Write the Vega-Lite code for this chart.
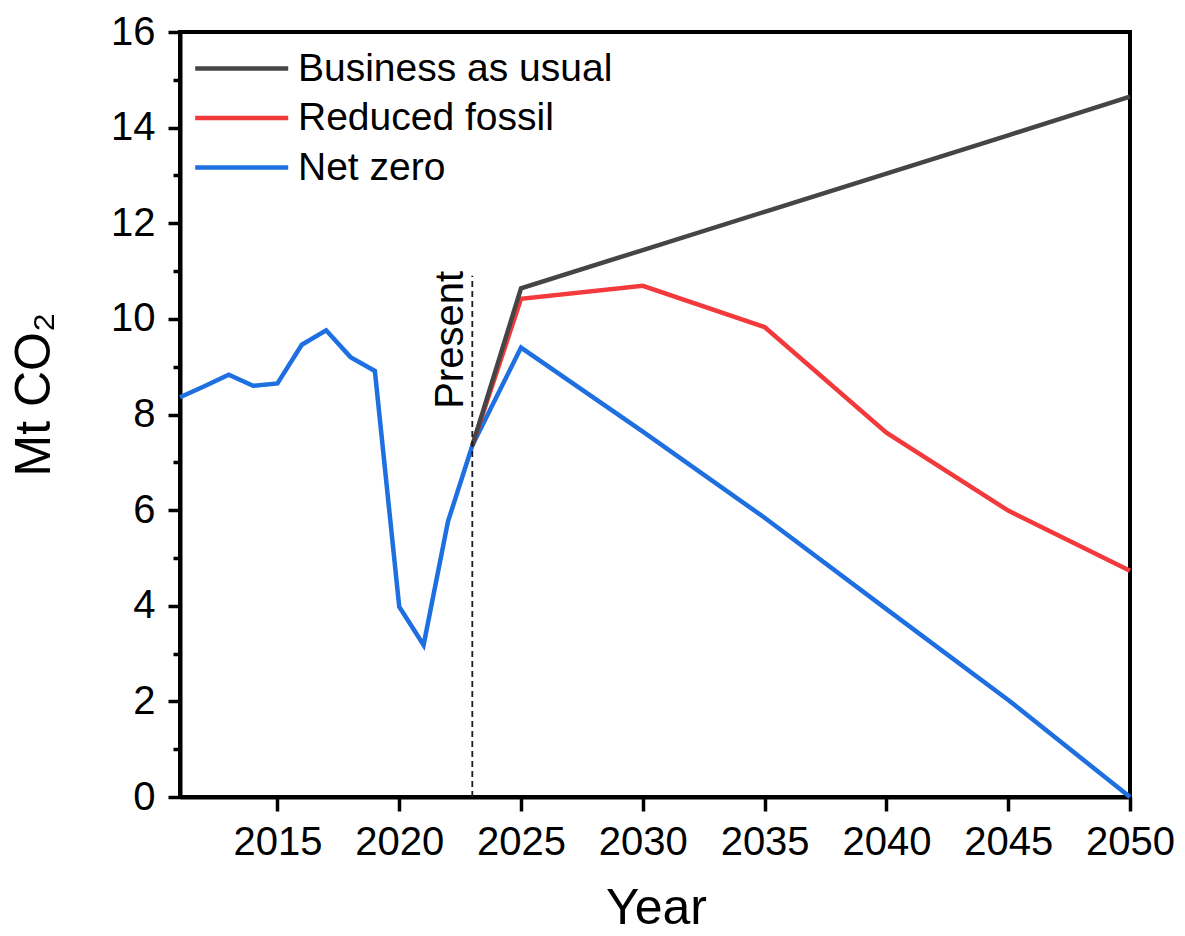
{
  "$schema": "https://vega.github.io/schema/vega-lite/v6.json",
  "width": 950,
  "height": 765,
  "autosize": "none",
  "padding": {"left": 180, "top": 32, "right": 55, "bottom": 139},
  "background": "white",
  "config": {
    "font": "Liberation Sans",
    "view": {"stroke": "black", "strokeWidth": 4},
    "axis": {
      "grid": false,
      "domainColor": "black",
      "domainWidth": 4,
      "tickColor": "black",
      "tickWidth": 3.5,
      "labelColor": "black",
      "labelFont": "Liberation Sans",
      "labelFontSize": 40,
      "titleFont": "Liberation Sans",
      "titleFontSize": 50,
      "titleFontWeight": "normal",
      "titleColor": "black"
    }
  },
  "datasets": {
    "emissions": [
      {"year": 2011, "value": 8.36, "scenario": "Net zero"},
      {"year": 2012, "value": 8.59, "scenario": "Net zero"},
      {"year": 2013, "value": 8.83, "scenario": "Net zero"},
      {"year": 2014, "value": 8.6, "scenario": "Net zero"},
      {"year": 2015, "value": 8.65, "scenario": "Net zero"},
      {"year": 2016, "value": 9.46, "scenario": "Net zero"},
      {"year": 2017, "value": 9.76, "scenario": "Net zero"},
      {"year": 2018, "value": 9.2, "scenario": "Net zero"},
      {"year": 2019, "value": 8.91, "scenario": "Net zero"},
      {"year": 2020, "value": 3.98, "scenario": "Net zero"},
      {"year": 2021, "value": 3.18, "scenario": "Net zero"},
      {"year": 2022, "value": 5.76, "scenario": "Net zero"},
      {"year": 2023, "value": 7.35, "scenario": "Net zero"},
      {"year": 2025, "value": 9.4, "scenario": "Net zero"},
      {"year": 2030, "value": 7.64, "scenario": "Net zero"},
      {"year": 2035, "value": 5.84, "scenario": "Net zero"},
      {"year": 2040, "value": 3.93, "scenario": "Net zero"},
      {"year": 2045, "value": 2.03, "scenario": "Net zero"},
      {"year": 2050, "value": 0, "scenario": "Net zero"},
      {"year": 2023, "value": 7.35, "scenario": "Reduced fossil"},
      {"year": 2025, "value": 10.42, "scenario": "Reduced fossil"},
      {"year": 2030, "value": 10.69, "scenario": "Reduced fossil"},
      {"year": 2035, "value": 9.83, "scenario": "Reduced fossil"},
      {"year": 2040, "value": 7.62, "scenario": "Reduced fossil"},
      {"year": 2045, "value": 5.99, "scenario": "Reduced fossil"},
      {"year": 2050, "value": 4.73, "scenario": "Reduced fossil"},
      {"year": 2023, "value": 7.35, "scenario": "Business as usual"},
      {"year": 2025, "value": 10.64, "scenario": "Business as usual"},
      {"year": 2030, "value": 11.44, "scenario": "Business as usual"},
      {"year": 2035, "value": 12.24, "scenario": "Business as usual"},
      {"year": 2040, "value": 13.04, "scenario": "Business as usual"},
      {"year": 2045, "value": 13.84, "scenario": "Business as usual"},
      {"year": 2050, "value": 14.65, "scenario": "Business as usual"}
    ],
    "present": [
      {"year": 2023, "label": "Present"}
    ]
  },
  "layer": [
    {
      "data": {"name": "emissions"},
      "mark": {"type": "line", "strokeWidth": 4.5, "strokeJoin": "miter"},
      "encoding": {
        "x": {
          "field": "year",
          "type": "quantitative",
          "scale": {"domain": [2011, 2050], "nice": false, "zero": false},
          "axis": {
            "title": "Year",
            "values": [2015, 2020, 2025, 2030, 2035, 2040, 2045, 2050],
            "format": "d",
            "tickSize": 14,
            "labelPadding": 11,
            "labelFlush": false,
            "labelOverlap": false,
            "titleX": 476,
            "titleY": 126,
            "titleBaseline": "alphabetic",
            "titleAnchor": "middle"
          }
        },
        "y": {
          "field": "value",
          "type": "quantitative",
          "scale": {"domain": [0, 16], "nice": false},
          "axis": {
            "orient": "left",
            "title": "Mt CO₂",
            "values": [0, 2, 4, 6, 8, 10, 12, 14, 16],
            "tickSize": 12,
            "labelPadding": 13,
            "labelFlush": false,
            "labelOverlap": false,
            "titleAngle": 270,
            "titleX": -131,
            "titleY": 362,
            "titleAlign": "center",
            "titleBaseline": "alphabetic"
          }
        },
        "color": {
          "field": "scenario",
          "type": "nominal",
          "scale": {
            "domain": ["Business as usual", "Reduced fossil", "Net zero"],
            "range": ["#454545", "#f23a3c", "#1e6fe0"]
          },
          "legend": {
            "title": null,
            "orient": "none",
            "legendX": 5,
            "legendY": 17,
            "padding": 0,
            "symbolType": "M-1,0H9",
            "symbolSize": 346,
            "symbolStrokeWidth": 4.5,
            "labelFont": "Liberation Sans",
            "labelFontSize": 39,
            "labelColor": "black",
            "labelLimit": 0,
            "labelOffset": 74,
            "rowPadding": 9.5
          }
        }
      }
    },
    {
      "data": {"name": "present"},
      "mark": {"type": "rule", "strokeDash": [6, 4], "strokeWidth": 1.8, "color": "#1a1a1a"},
      "encoding": {
        "x": {"field": "year", "type": "quantitative"},
        "y": {"datum": 0, "type": "quantitative", "axis": null},
        "y2": {"datum": 10.9}
      }
    },
    {
      "data": {"name": "present"},
      "mark": {
        "type": "text",
        "angle": 270,
        "align": "center",
        "baseline": "alphabetic",
        "dy": -9,
        "font": "Liberation Sans",
        "fontSize": 40,
        "color": "black"
      },
      "encoding": {
        "x": {"field": "year", "type": "quantitative"},
        "text": {"field": "label"},
        "y": {
          "datum": 9.56,
          "type": "quantitative",
          "axis": {
            "orient": "left",
            "values": [1, 3, 5, 7, 9, 11, 13, 15],
            "labels": false,
            "domain": false,
            "tickSize": 7,
            "title": null
          }
        }
      }
    }
  ],
  "resolve": {"axis": {"y": "independent"}}
}
